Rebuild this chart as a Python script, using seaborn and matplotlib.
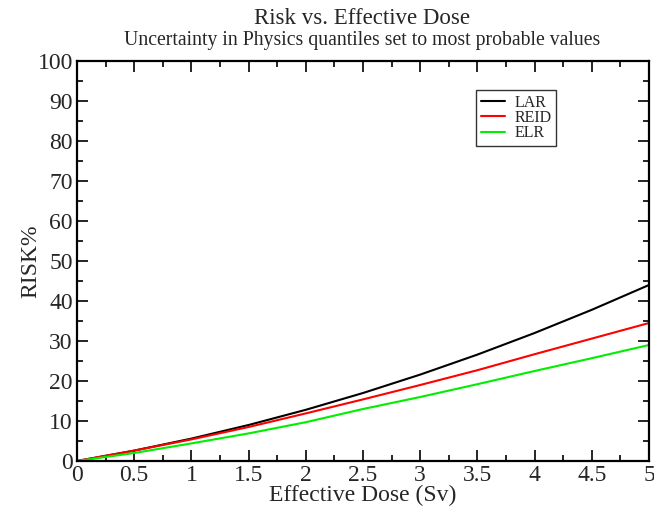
import numpy as np
import pandas as pd
import matplotlib
matplotlib.use("Agg")
import matplotlib.pyplot as plt
import seaborn as sns
from matplotlib.ticker import MultipleLocator

dose = [0.0, 0.5, 1.0, 1.5, 2.0, 2.5, 3.0, 3.5, 4.0, 4.5, 5.0]
lar = [0.0, 2.6, 5.6, 9.0, 12.8, 17.0, 21.6, 26.6, 32.0, 37.8, 44.0]
reid = [0.0, 2.6, 5.4, 8.5, 11.9, 15.4, 19.0, 22.7, 26.7, 30.6, 34.5]
elr = [0.0, 2.0, 4.4, 6.9, 9.7, 13.0, 16.0, 19.2, 22.5, 25.7, 29.0]
series_names = ["LAR", "REID", "ELR"]
series_colors = ["#000000", "#ff0000", "#00ee00"]

df = pd.DataFrame({
    "dose": dose * 3,
    "risk": lar + reid + elr,
    "series": [n for n in series_names for _ in dose],
})

sns.set_style("ticks")
plt.rcParams["font.family"] = ["Liberation Serif", "DejaVu Serif"]

fig = plt.figure(figsize=(6.54, 5.12), dpi=100)
ax = fig.add_axes([77 / 654, 1 - 461 / 512, (649 - 77) / 654, (461 - 61) / 512])

sns.lineplot(data=df, x="dose", y="risk", hue="series", hue_order=series_names,
             palette=series_colors, linewidth=1.5, ax=ax, legend=True)

ax.set_xlim(0, 5)
ax.set_ylim(0, 100)
ax.xaxis.set_major_locator(MultipleLocator(0.5))
ax.xaxis.set_minor_locator(MultipleLocator(0.25))
ax.yaxis.set_major_locator(MultipleLocator(10))
ax.yaxis.set_minor_locator(MultipleLocator(5))
ax.set_xticklabels([f"{v:g}" for v in ax.get_xticks()])
ax.tick_params(which="both", direction="in", top=True, right=True, color="black",
               labelsize=17, width=1.2)
ax.tick_params(which="major", length=8, pad=3)
ax.tick_params(which="minor", length=4)
for s in ax.spines.values():
    s.set_linewidth(1.6)
    s.set_color("black")

ax.set_xlabel("Effective Dose (Sv)", fontsize=17, labelpad=-1)
ax.set_ylabel("RISK%", fontsize=17, labelpad=-3)

fig.text(362 / 654, 1 - 19 / 512, "Risk vs. Effective Dose",
         ha="center", va="center", fontsize=16.5)
fig.text(362 / 654, 1 - 40 / 512,
         "Uncertainty in Physics quantiles set to most probable values",
         ha="center", va="center", fontsize=14.2)

leg = ax.legend(loc="upper left", bbox_to_anchor=(476 / 654, 1 - 90 / 512),
                bbox_transform=fig.transFigure, fontsize=11.5, frameon=True,
                fancybox=False, handlelength=1.5, borderpad=0.3,
                labelspacing=-0.05, handletextpad=0.6, borderaxespad=0)
leg.get_frame().set_edgecolor("black")
leg.get_frame().set_linewidth(1.0)
for h in leg.get_lines():
    h.set_linewidth(1.5)

fig.savefig("out.png", dpi=100)
